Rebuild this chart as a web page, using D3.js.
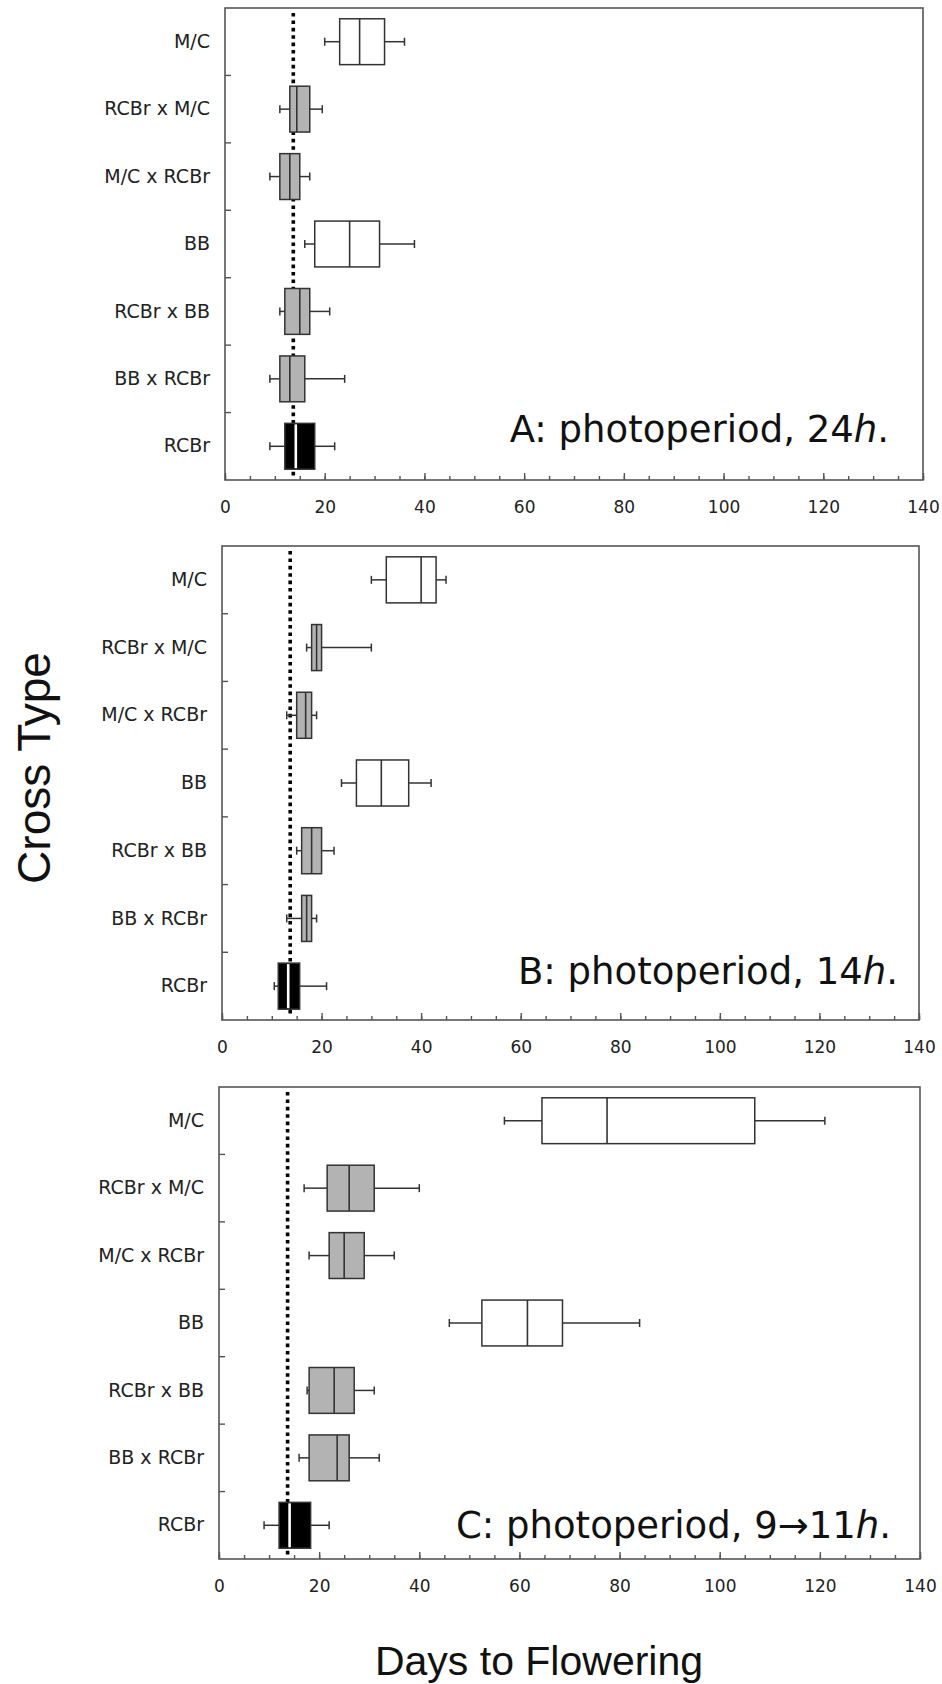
<!DOCTYPE html>
<html>
<head>
<meta charset="utf-8">
<script src="https://cdn.jsdelivr.net/npm/d3@7"></script>
<style>
    body { margin: 0; background: #fff; }
    svg { display: block; }
</style>
</head>
<body>
<div id="chart"></div>
<script>
(function () {
    'use strict';

    // cross types, top to bottom
    var categories = ["M/C", "RCBr x M/C", "M/C x RCBr", "BB", "RCBr x BB", "BB x RCBr", "RCBr"];
    // which fill each cross type gets
    var groups = ["parent", "cross", "cross", "parent", "cross", "cross", "rcbr"];

    // [low whisker, Q1, median, Q3, high whisker] in days to flowering
    var boxesA = [
        [20, 23, 27, 32, 36],
        [11, 13, 14.4, 17, 19.5],
        [9, 11, 13, 15, 17],
        [16, 18, 25, 31, 38],
        [11, 12, 15, 17, 21],
        [9, 11, 13, 16, 24],
        [9, 12, 14.2, 18, 22]
    ];
    var boxesB = [
        [30, 33, 40, 43, 45],
        [17, 18, 19, 20, 30],
        [13, 15, 16.8, 18, 19],
        [24, 27, 32, 37.5, 42],
        [15, 16, 18, 20, 22.5],
        [13, 16, 17, 18, 19],
        [10.5, 11.3, 13.3, 15.6, 21]
    ];
    var boxesC = [
        [57, 64.5, 77.5, 107, 121],
        [17, 21.6, 26, 31, 40],
        [18, 22, 25, 29, 35],
        [46, 52.5, 61.6, 68.6, 84],
        [17.6, 18, 23, 27, 31],
        [16, 18, 23.6, 26, 32],
        [9, 12, 14.1, 18.3, 22]
    ];

    // dotted reference line (days)
    var refDays = [13.7, 13.7, 13.7];
    var panelNames = ["A: photoperiod, 24", "B: photoperiod, 14", "C: photoperiod, 9\u219211"];
    var xTicks = [0, 20, 40, 60, 80, 100, 120, 140];
    var xMinorTicks = d3.range(0, 141, 5);

    var fills = { parent: "#ffffff", cross: "#b3b3b3", rcbr: "#000000" };

    var width = 942, height = 1684;

    var svg = d3.select("#chart")
        .append("svg")
        .attr("width", width)
        .attr("height", height);

    // panel frames
    var panels = [
        { left: 225, top: 8, right: 923, bottom: 480, data: boxesA, labelX: 889, labelY: 442 },
        { left: 222, top: 546, right: 919, bottom: 1020, data: boxesB, labelX: 898, labelY: 984 },
        { left: 219, top: 1087, right: 920, bottom: 1559, data: boxesC, labelX: 891, labelY: 1538 }
    ];

    panels.forEach(function (p, pi) {
        var g = svg.append("g");

        var x = d3.scaleLinear().domain([0, 140]).range([p.left, p.right]);
        var y = d3.scaleBand().domain(categories).range([p.top, p.bottom]);
        var bw = y.bandwidth();
        var boxH = bw * 0.68;

        // frame
        g.append("rect")
            .attr("x", p.left)
            .attr("y", p.top)
            .attr("width", p.right - p.left)
            .attr("height", p.bottom - p.top)
            .attr("fill", "none")
            .attr("stroke", "#555")
            .attr("stroke-width", 1.6);

        // minor ticks on x axis
        var minorAxis = d3.axisBottom(x)
            .tickValues(xMinorTicks)
            .tickSizeInner(-4)
            .tickSizeOuter(0)
            .tickFormat("");
        g.append("g")
            .attr("transform", "translate(0," + p.bottom + ")")
            .call(minorAxis)
            .call(function (a) { a.select(".domain").remove(); })
            .selectAll("line").attr("stroke", "#555").attr("stroke-width", 1.4);

        // major ticks + labels
        var majorAxis = d3.axisBottom(x)
            .tickValues(xTicks)
            .tickSizeInner(-7)
            .tickSizeOuter(0)
            .tickPadding(21)
            .tickFormat(d3.format("d"));
        var ax = g.append("g")
            .attr("transform", "translate(0," + p.bottom + ")")
            .call(majorAxis)
            .call(function (a) { a.select(".domain").remove(); });
        ax.selectAll("line").attr("stroke", "#555").attr("stroke-width", 1.4);
        ax.selectAll("text")
            .attr("fill", "#222")
            .style("font-family", "'DejaVu Sans', Verdana, sans-serif")
            .style("font-size", "17px");

        // category labels
        var yAxis = d3.axisLeft(y).tickSize(0).tickPadding(15);
        var ay = g.append("g")
            .attr("transform", "translate(" + p.left + ",0)")
            .call(yAxis)
            .call(function (a) { a.select(".domain").remove(); });
        ay.selectAll("text")
            .attr("fill", "#222")
            .style("font-family", "'DejaVu Sans', Verdana, sans-serif")
            .style("font-size", "19px");

        // category boundary ticks, pointing inward
        g.selectAll("line.ytick")
            .data(categories.slice(1))
            .enter()
            .append("line")
            .attr("class", "ytick")
            .attr("x1", p.left)
            .attr("x2", p.left + 6)
            .attr("y1", function (d) { return y(d); })
            .attr("y2", function (d) { return y(d); })
            .attr("stroke", "#555")
            .attr("stroke-width", 1.4);

        // dotted reference line
        g.append("line")
            .attr("x1", x(refDays[pi]))
            .attr("x2", x(refDays[pi]))
            .attr("y1", p.top + 5)
            .attr("y2", p.bottom - 4)
            .attr("stroke", "#000")
            .attr("stroke-width", 3.6)
            .attr("stroke-dasharray", "3.6,3.8");

        // boxes
        var rows = g.selectAll("g.row")
            .data(p.data.map(function (v, i) {
                return { cat: categories[i], grp: groups[i], v: v };
            }))
            .enter()
            .append("g")
            .attr("class", "row");

        function cy(d) { return y(d.cat) + bw / 2; }

        // whiskers
        rows.append("line")
            .attr("x1", function (d) { return x(d.v[0]); })
            .attr("x2", function (d) { return x(d.v[1]); })
            .attr("y1", cy).attr("y2", cy)
            .attr("stroke", "#333").attr("stroke-width", 1.5);
        rows.append("line")
            .attr("x1", function (d) { return x(d.v[3]); })
            .attr("x2", function (d) { return x(d.v[4]); })
            .attr("y1", cy).attr("y2", cy)
            .attr("stroke", "#333").attr("stroke-width", 1.5);
        // whisker caps
        [0, 4].forEach(function (k) {
            rows.append("line")
                .attr("x1", function (d) { return x(d.v[k]); })
                .attr("x2", function (d) { return x(d.v[k]); })
                .attr("y1", function (d) { return cy(d) - 4; })
                .attr("y2", function (d) { return cy(d) + 4; })
                .attr("stroke", "#333").attr("stroke-width", 1.5);
        });

        rows.append("rect")
            .attr("x", function (d) { return x(d.v[1]); })
            .attr("width", function (d) { return x(d.v[3]) - x(d.v[1]); })
            .attr("y", function (d) { return cy(d) - boxH / 2; })
            .attr("height", boxH)
            .attr("fill", function (d) { return fills[d.grp]; })
            .attr("stroke", "#333")
            .attr("stroke-width", 1.5);

        // median
        rows.append("line")
            .attr("x1", function (d) { return x(d.v[2]); })
            .attr("x2", function (d) { return x(d.v[2]); })
            .attr("y1", function (d) { return cy(d) - boxH / 2 + (d.grp === "rcbr" ? 1 : 0); })
            .attr("y2", function (d) { return cy(d) + boxH / 2 - (d.grp === "rcbr" ? 1 : 0); })
            .attr("stroke", function (d) { return d.grp === "rcbr" ? "#fff" : "#333"; })
            .attr("stroke-width", function (d) { return d.grp === "rcbr" ? 2.6 : 1.6; });

        // panel label
        var lab = g.append("text")
            .attr("x", p.labelX)
            .attr("y", p.labelY)
            .attr("text-anchor", "end")
            .attr("fill", "#111")
            .style("font-family", "'DejaVu Sans', Verdana, sans-serif")
            .style("font-size", "37px");
        lab.append("tspan").text(panelNames[pi]);
        lab.append("tspan").style("font-style", "italic").text("h");
        lab.append("tspan").text(".");
    });

    // axis titles
    svg.append("text")
        .attr("transform", "translate(50,768) rotate(-90)")
        .attr("text-anchor", "middle")
        .attr("fill", "#111")
        .style("font-family", "'Liberation Sans', Arial, sans-serif")
        .style("font-size", "46px")
        .text("Cross Type");

    svg.append("text")
        .attr("x", 539)
        .attr("y", 1675)
        .attr("text-anchor", "middle")
        .attr("fill", "#111")
        .style("font-family", "'Liberation Sans', Arial, sans-serif")
        .style("font-size", "41px")
        .text("Days to Flowering");
}());
</script>
</body>
</html>
